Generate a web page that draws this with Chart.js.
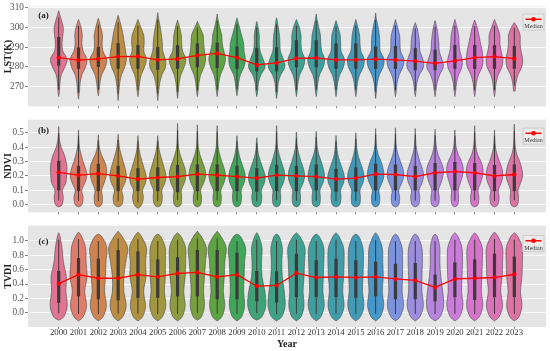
<!DOCTYPE html>
<html>
<head>
<meta charset="utf-8">
<title>LST / NDVI / TVDI violins</title>
<script src="https://cdn.jsdelivr.net/npm/chart.js@4.4.1/dist/chart.umd.min.js"></script>
<style>
    html, body { margin: 0; padding: 0; background: #fff; }
    #wrap { position: relative; width: 550px; height: 351px; }
    .panel { position: absolute; left: 0; width: 550px; }
</style>
</head>
<body>
<div id="wrap">
    <div class="panel" style="top:0;height:113px"><canvas id="chartA" width="550" height="113"></canvas></div>
    <div class="panel" style="top:113px;height:106px"><canvas id="chartB" width="550" height="106"></canvas></div>
    <div class="panel" style="top:219px;height:132px"><canvas id="chartC" width="550" height="132"></canvas></div>
</div>
<script>
"use strict";

// Categories
var years = [2000, 2001, 2002, 2003, 2004, 2005, 2006, 2007, 2008, 2009, 2010, 2011,
             2012, 2013, 2014, 2015, 2016, 2017, 2018, 2019, 2020, 2021, 2022, 2023];

var violinColors = ['#e07492', '#e07c6c', '#cf8450', '#bd8c45', '#ae923f', '#a09740',
                    '#8f9b41', '#7a9f40', '#5fa443', '#42a65a', '#3ea478', '#3ea386',
                    '#3ea192', '#3f9f9e', '#409daa', '#439ab7', '#4797cb', '#7e93dd',
                    '#9d8ddd', '#b584db', '#cb7bd9', '#d773cb', '#db73b7', '#dd74a3'];

// (a) LST
var lstMedian = [284.7, 283.4, 284.0, 285.2, 285.3, 283.5, 284.0, 285.8, 286.8, 284.7, 281.0, 282.0,
                 284.3, 284.5, 283.5, 283.5, 283.9, 283.5, 282.9, 281.8, 283.0, 284.7, 285.2, 284.2];
var lstQ1 = [280.6, 279, 280, 279, 279, 278.5, 279, 279.8, 279.4, 279, 277.7, 277.7,
             279.8, 279.8, 279, 279, 279, 279, 278.3, 278.3, 279, 279, 279, 279];
var lstQ3 = [295.1, 289.8, 290, 292, 291, 290, 291, 291.9, 292.2, 290.3, 289.5, 289.8,
             293.5, 293.5, 291.9, 291.9, 290.3, 290.6, 289.5, 288.7, 291.1, 291.1, 291, 290.6];
var lstMin = [265, 263.7, 265.4, 263, 265, 263, 264, 265, 265, 265.4, 265, 264,
              265, 265, 265, 265, 264, 265, 265, 265, 265, 265, 265, 267.8];
var lstMax = [308.4, 304, 304.5, 306, 304, 307.5, 303.7, 303, 306.7, 304.8, 303, 304.8,
              304, 306.7, 303.4, 304, 307.2, 304, 302.4, 303.4, 304, 303.7, 304, 302.4];
var lstLevels = [268, 272, 276, 280, 284, 288, 292, 296, 300, 304];
var lstWidths = [
    [0.1, 0.15, 0.3, 0.75, 1.0, 0.5, 0.4, 0.5, 0.55, 0.3],
    [0.12, 0.2, 0.4, 0.85, 1.0, 0.55, 0.4, 0.45, 0.3, 0.05],
    [0.1, 0.2, 0.4, 0.85, 1.0, 0.55, 0.45, 0.5, 0.3, 0.05],
    [0.1, 0.2, 0.4, 0.8, 1.0, 0.9, 0.75, 0.6, 0.4, 0.15],
    [0.1, 0.2, 0.4, 0.8, 1.0, 0.7, 0.75, 0.7, 0.35, 0.05],
    [0.12, 0.25, 0.5, 0.95, 0.9, 0.6, 0.55, 0.45, 0.3, 0.12],
    [0.1, 0.2, 0.4, 0.8, 1.0, 0.6, 0.5, 0.45, 0.25, 0.02],
    [0.1, 0.2, 0.4, 0.8, 1.0, 0.85, 0.75, 0.7, 0.3, 0.04],
    [0.1, 0.2, 0.4, 0.8, 1.0, 0.8, 0.6, 0.55, 0.3, 0.1],
    [0.1, 0.2, 0.4, 0.85, 1.0, 0.85, 0.8, 0.55, 0.3, 0.05],
    [0.12, 0.2, 0.5, 1.0, 0.75, 0.4, 0.3, 0.3, 0.15, 0.02],
    [0.12, 0.2, 0.5, 1.0, 0.8, 0.45, 0.4, 0.35, 0.2, 0.05],
    [0.1, 0.2, 0.4, 0.85, 1.0, 0.65, 0.55, 0.55, 0.35, 0.05],
    [0.1, 0.2, 0.4, 0.85, 1.0, 0.65, 0.55, 0.5, 0.3, 0.1],
    [0.1, 0.2, 0.45, 0.9, 1.0, 0.6, 0.55, 0.5, 0.25, 0.02],
    [0.1, 0.2, 0.45, 0.9, 1.0, 0.6, 0.5, 0.45, 0.25, 0.04],
    [0.1, 0.2, 0.45, 0.9, 1.0, 0.55, 0.5, 0.45, 0.3, 0.1],
    [0.1, 0.2, 0.45, 0.9, 1.0, 0.6, 0.55, 0.5, 0.25, 0.04],
    [0.1, 0.2, 0.5, 1.0, 0.9, 0.55, 0.5, 0.4, 0.2, 0.01],
    [0.1, 0.25, 0.55, 1.0, 0.8, 0.5, 0.45, 0.35, 0.2, 0.02],
    [0.1, 0.2, 0.45, 0.85, 0.85, 0.6, 0.5, 0.45, 0.25, 0.04],
    [0.1, 0.2, 0.45, 0.9, 1.0, 0.9, 0.7, 0.5, 0.3, 0.03],
    [0.1, 0.2, 0.45, 0.9, 1.0, 0.8, 0.65, 0.65, 0.35, 0.04],
    [0.1, 0.2, 0.45, 0.9, 1.0, 0.8, 0.7, 0.7, 0.35, 0.01]
];
var lstTicks = [270, 280, 290, 300, 310];

// (b) NDVI
var ndviMedian = [0.225, 0.206, 0.216, 0.2, 0.178, 0.189, 0.195, 0.212, 0.206, 0.195, 0.185, 0.206,
                  0.2, 0.195, 0.178, 0.185, 0.212, 0.21, 0.195, 0.222, 0.23, 0.222, 0.2, 0.21];
var ndviQ1 = [0.1, 0.094, 0.094, 0.094, 0.094, 0.094, 0.087, 0.094, 0.094, 0.094, 0.09, 0.094,
              0.094, 0.1, 0.09, 0.09, 0.1, 0.1, 0.1, 0.1, 0.1, 0.1, 0.094, 0.094];
var ndviQ3 = [0.305, 0.27, 0.284, 0.27, 0.254, 0.26, 0.277, 0.28, 0.28, 0.27, 0.254, 0.277,
              0.27, 0.28, 0.25, 0.26, 0.285, 0.28, 0.27, 0.29, 0.297, 0.29, 0.277, 0.28];
var ndviMin = [-0.016, -0.016, -0.016, -0.016, -0.026, -0.016, -0.016, -0.016, -0.016, -0.016, -0.016, -0.016,
               -0.016, -0.016, -0.016, -0.016, -0.016, -0.016, -0.016, -0.016, -0.016, -0.016, -0.016, -0.016];
var ndviMax = [0.543, 0.52, 0.486, 0.49, 0.48, 0.48, 0.565, 0.555, 0.55, 0.48, 0.466, 0.55,
               0.503, 0.51, 0.48, 0.5, 0.53, 0.535, 0.53, 0.525, 0.52, 0.55, 0.52, 0.56];
var ndviLevels = [0.0, 0.05, 0.1, 0.15, 0.2, 0.25, 0.3, 0.35, 0.4, 0.45, 0.5];
var ndviWidths = [
    [0.4, 0.55, 0.45, 0.85, 0.95, 1.0, 0.9, 0.65, 0.3, 0.1, 0.03],
    [0.4, 0.55, 0.4, 0.75, 1.0, 0.85, 0.55, 0.3, 0.12, 0.05, 0.02],
    [0.4, 0.5, 0.4, 0.7, 0.95, 1.0, 0.75, 0.35, 0.12, 0.04, 0.01],
    [0.45, 0.6, 0.45, 0.8, 1.0, 0.85, 0.6, 0.35, 0.15, 0.05, 0.01],
    [0.45, 0.65, 0.55, 0.9, 1.0, 0.75, 0.5, 0.25, 0.1, 0.04, 0.01],
    [0.4, 0.55, 0.5, 0.85, 1.0, 0.8, 0.55, 0.3, 0.12, 0.04, 0.01],
    [0.4, 0.5, 0.45, 0.8, 1.0, 0.9, 0.6, 0.3, 0.12, 0.06, 0.03],
    [0.4, 0.5, 0.4, 0.75, 1.0, 0.9, 0.6, 0.3, 0.12, 0.06, 0.03],
    [0.4, 0.5, 0.45, 0.8, 1.0, 0.85, 0.55, 0.3, 0.12, 0.06, 0.03],
    [0.4, 0.55, 0.5, 0.85, 1.0, 0.8, 0.5, 0.25, 0.1, 0.03, 0.01],
    [0.45, 0.6, 0.55, 0.9, 1.0, 0.75, 0.45, 0.2, 0.08, 0.03, 0.0],
    [0.4, 0.5, 0.45, 0.8, 1.0, 0.85, 0.55, 0.3, 0.12, 0.06, 0.03],
    [0.4, 0.5, 0.45, 0.8, 1.0, 0.85, 0.55, 0.3, 0.12, 0.05, 0.02],
    [0.4, 0.5, 0.45, 0.8, 1.0, 0.85, 0.6, 0.3, 0.12, 0.05, 0.02],
    [0.45, 0.6, 0.55, 0.9, 1.0, 0.75, 0.45, 0.2, 0.1, 0.03, 0.01],
    [0.45, 0.55, 0.5, 0.85, 1.0, 0.8, 0.5, 0.25, 0.1, 0.04, 0.01],
    [0.4, 0.5, 0.4, 0.75, 1.0, 0.9, 0.65, 0.3, 0.12, 0.05, 0.02],
    [0.4, 0.5, 0.4, 0.75, 1.0, 0.9, 0.6, 0.3, 0.12, 0.05, 0.02],
    [0.4, 0.55, 0.45, 0.8, 1.0, 0.85, 0.55, 0.3, 0.12, 0.05, 0.02],
    [0.4, 0.5, 0.4, 0.7, 0.95, 1.0, 0.7, 0.35, 0.15, 0.06, 0.02],
    [0.35, 0.45, 0.4, 0.65, 0.9, 1.0, 0.8, 0.4, 0.15, 0.06, 0.02],
    [0.4, 0.5, 0.4, 0.7, 0.95, 1.0, 0.75, 0.35, 0.15, 0.06, 0.03],
    [0.4, 0.55, 0.45, 0.8, 1.0, 0.9, 0.6, 0.3, 0.12, 0.05, 0.02],
    [0.4, 0.5, 0.45, 0.75, 1.0, 0.9, 0.65, 0.3, 0.12, 0.06, 0.03]
];
var ndviTicks = [0.0, 0.1, 0.2, 0.3, 0.4, 0.5];

// (c) TVDI
var tvdiMedian = [0.405, 0.53, 0.48, 0.48, 0.53, 0.5, 0.546, 0.56, 0.5, 0.53, 0.37, 0.38,
                  0.55, 0.49, 0.5, 0.49, 0.5, 0.47, 0.45, 0.355, 0.47, 0.48, 0.49, 0.535];
var tvdiQ1 = [0.14, 0.23, 0.19, 0.176, 0.21, 0.21, 0.23, 0.23, 0.19, 0.19, 0.16, 0.146,
              0.22, 0.22, 0.22, 0.21, 0.23, 0.19, 0.19, 0.16, 0.22, 0.18, 0.22, 0.22];
var tvdiQ3 = [0.58, 0.758, 0.75, 0.868, 0.85, 0.74, 0.77, 0.87, 0.87, 0.83, 0.58, 0.575,
              0.82, 0.73, 0.75, 0.73, 0.71, 0.68, 0.69, 0.53, 0.7, 0.74, 0.82, 0.78];
var tvdiMin = [-0.1, -0.11, -0.11, -0.11, -0.11, -0.11, -0.11, -0.1, -0.11, -0.11, -0.1, -0.11,
               -0.11, -0.11, -0.11, -0.11, -0.11, -0.11, -0.11, -0.11, -0.11, -0.11, -0.11, -0.11];
var tvdiMax = [1.11, 1.12, 1.09, 1.13, 1.12, 1.09, 1.11, 1.13, 1.13, 1.09, 1.11, 1.09,
               1.11, 1.09, 1.11, 1.09, 1.11, 1.09, 1.09, 1.09, 1.11, 1.11, 1.12, 1.11];
var tvdiLevels = [-0.05, 0.1, 0.3, 0.5, 0.7, 0.9, 1.05];
var tvdiWidths = [
    [0.55, 0.9, 0.75, 0.8, 0.5, 0.35, 0.15],
    [0.5, 0.85, 0.65, 0.9, 0.8, 0.75, 0.35],
    [0.5, 0.85, 0.65, 0.75, 0.8, 0.9, 0.4],
    [0.5, 0.85, 0.6, 0.6, 0.8, 1.0, 0.45],
    [0.5, 0.8, 0.6, 0.85, 0.8, 0.9, 0.4],
    [0.5, 0.85, 0.7, 0.8, 0.8, 0.8, 0.35],
    [0.5, 0.8, 0.65, 0.8, 0.85, 0.85, 0.4],
    [0.45, 0.75, 0.65, 0.75, 0.85, 0.95, 0.45],
    [0.5, 0.8, 0.65, 0.75, 0.8, 0.95, 0.45],
    [0.5, 0.8, 0.7, 0.75, 0.8, 0.9, 0.4],
    [0.55, 0.95, 0.85, 0.55, 0.5, 0.55, 0.25],
    [0.55, 0.9, 0.8, 0.6, 0.55, 0.6, 0.3],
    [0.5, 0.8, 0.7, 0.8, 0.85, 0.9, 0.4],
    [0.5, 0.85, 0.7, 0.75, 0.8, 0.8, 0.35],
    [0.5, 0.85, 0.7, 0.8, 0.85, 0.8, 0.35],
    [0.5, 0.85, 0.7, 0.75, 0.8, 0.75, 0.35],
    [0.5, 0.85, 0.7, 0.8, 0.75, 0.7, 0.3],
    [0.5, 0.85, 0.7, 0.75, 0.75, 0.7, 0.3],
    [0.5, 0.85, 0.7, 0.7, 0.75, 0.7, 0.3],
    [0.55, 0.9, 0.8, 0.6, 0.5, 0.5, 0.25],
    [0.5, 0.85, 0.7, 0.75, 0.8, 0.75, 0.35],
    [0.5, 0.85, 0.7, 0.75, 0.8, 0.8, 0.35],
    [0.5, 0.85, 0.65, 0.8, 0.85, 0.85, 0.4],
    [0.5, 0.8, 0.65, 0.8, 0.85, 0.85, 0.4]
];
var tvdiTicks = [0.0, 0.2, 0.4, 0.6, 0.8, 1.0];

var SERIF = '"Liberation Serif", "Times New Roman", serif';

// catmull-rom through points, keeps the curve on one side of cx
function splineTo(ctx, P, cx, side) {
    var clampX = function (x) { return side > 0 ? Math.max(x, cx) : Math.min(x, cx); };
    for (var i = 0; i < P.length - 1; i++) {
        var p0 = P[i - 1] || P[i], p1 = P[i], p2 = P[i + 1], p3 = P[i + 2] || P[i + 1];
        ctx.bezierCurveTo(
            clampX(p1[0] + (p2[0] - p0[0]) / 6), p1[1] + (p2[1] - p0[1]) / 6,
            clampX(p2[0] - (p3[0] - p1[0]) / 6), p2[1] - (p3[1] - p1[1]) / 6,
            p2[0], p2[1]);
    }
}

// Violin plugin - draws shapes + inner box before the median line
var violinPlugin = {
    id: 'violins',
    beforeDatasetsDraw: function (chart) {
        var v = chart.options.plugins.violins;
        var ctx = chart.ctx, xs = chart.scales.x, ys = chart.scales.y;
        var slot = xs.getPixelForValue(1) - xs.getPixelForValue(0);
        var maxHalf = slot * v.spread;
        ctx.save();
        for (var i = 0; i < years.length; i++) {
            var cx = xs.getPixelForValue(i);
            var pts = [[cx, ys.getPixelForValue(v.min[i])]];
            for (var k = 0; k < v.levels.length; k++) {
                var lv = v.levels[k];
                if (lv <= v.min[i] || lv >= v.max[i]) continue;
                pts.push([cx + v.widths[i][k] * maxHalf, ys.getPixelForValue(lv)]);
            }
            pts.push([cx, ys.getPixelForValue(v.max[i])]);
            var leftPts = pts.slice().reverse().map(function (p) { return [2 * cx - p[0], p[1]]; });

            ctx.beginPath();
            ctx.moveTo(pts[0][0], pts[0][1]);
            splineTo(ctx, pts, cx, 1);
            splineTo(ctx, leftPts, cx, -1);
            ctx.closePath();
            ctx.fillStyle = violinColors[i];
            ctx.fill();
            ctx.lineWidth = 0.6;
            ctx.strokeStyle = '#4a4a4a';
            ctx.stroke();

            // whisker + box
            var iqr = v.q3[i] - v.q1[i];
            var span = v.max[i] - v.min[i];
            var lo = Math.max(v.q1[i] - 1.5 * iqr, v.min[i] + 0.08 * span);
            var hi = Math.min(v.q3[i] + 1.5 * iqr, v.max[i] - 0.08 * span);
            ctx.strokeStyle = '#3a3a3a';
            ctx.lineWidth = 1;
            ctx.beginPath();
            ctx.moveTo(cx, ys.getPixelForValue(lo));
            ctx.lineTo(cx, ys.getPixelForValue(hi));
            ctx.stroke();
            var yTop = ys.getPixelForValue(v.q3[i]), yBot = ys.getPixelForValue(v.q1[i]);
            ctx.fillStyle = '#3a3a3a';
            ctx.fillRect(cx - 1.6, yTop, 3.2, yBot - yTop);
        }
        ctx.restore();
    }
};

// Gray panel background
var panelBg = {
    id: 'panelBg',
    beforeDraw: function (chart) {
        var a = chart.chartArea, ctx = chart.ctx;
        ctx.save();
        ctx.fillStyle = '#e5e5e5';
        ctx.fillRect(a.left, a.top, a.right - a.left, a.bottom - a.top);
        ctx.restore();
    }
};

// Panel tag + little "Median" legend box
var panelDecor = {
    id: 'panelDecor',
    afterDraw: function (chart) {
        var o = chart.options.plugins.panelDecor;
        var a = chart.chartArea, ctx = chart.ctx;
        ctx.save();
        ctx.font = 'bold 9px ' + SERIF;
        ctx.fillStyle = '#222';
        ctx.textAlign = 'center';
        ctx.textBaseline = 'middle';
        ctx.fillText(o.tag, a.left + 15.5, a.top + o.tagY);

        var bw = 22, bh = 17;
        var bx = a.right - bw - 1.5, by = a.top + o.boxY;
        ctx.fillStyle = '#ebebeb';
        ctx.fillRect(bx, by, bw, bh);
        ctx.strokeStyle = '#c4c4c4';
        ctx.lineWidth = 0.8;
        ctx.strokeRect(bx + 0.5, by + 0.5, bw - 1, bh - 1);
        ctx.strokeStyle = '#ff0000';
        ctx.lineWidth = 1.5;
        ctx.beginPath();
        ctx.moveTo(bx + 3, by + 5.7);
        ctx.lineTo(bx + bw - 3, by + 5.7);
        ctx.stroke();
        ctx.fillStyle = '#ff0000';
        ctx.beginPath();
        ctx.arc(bx + bw / 2, by + 5.7, 2.3, 0, Math.PI * 2);
        ctx.fill();
        ctx.font = '6px ' + SERIF;
        ctx.fillStyle = '#333';
        ctx.fillText('Median', bx + bw / 2, by + 13);
        ctx.restore();
    }
};

function makePanel(id, p) {
    var ctx = document.getElementById(id).getContext('2d');
    return new Chart(ctx, {
        type: 'line',
        data: {
            datasets: [{
                label: 'Median',
                data: p.median.map(function (m, i) { return { x: i, y: m }; }),
                borderColor: '#ff0000',
                backgroundColor: '#ff0000',
                borderWidth: 1.3,
                pointRadius: 2.1,
                pointBorderWidth: 0,
                tension: 0
            }]
        },
        options: {
            responsive: false,
            animation: false,
            layout: { padding: { top: p.padTop, right: 3, left: 0, bottom: 0 } },
            plugins: {
                legend: { display: false },
                tooltip: { enabled: false },
                violins: p,
                panelDecor: { tag: p.tag, tagY: p.tagY, boxY: p.boxY }
            },
            scales: {
                x: {
                    type: 'linear',
                    min: -1.55,
                    max: 24.6,
                    afterBuildTicks: function (s) {
                        s.ticks = years.map(function (y, i) { return { value: i }; });
                    },
                    afterFit: function (s) { s.height = p.xHeight; },
                    ticks: {
                        display: p.showYears,
                        autoSkip: false,
                        maxRotation: 0,
                        padding: -2,
                        color: '#333',
                        font: { family: SERIF, size: 8.7 },
                        callback: function (v) { return years[v]; }
                    },
                    grid: { drawOnChartArea: false, tickLength: 2, tickColor: '#777', lineWidth: 0.8 },
                    border: { display: false },
                    title: {
                        display: p.showYears,
                        text: 'Year',
                        color: '#222',
                        font: { family: SERIF, size: 10, weight: 'bold' },
                        padding: { top: 0, bottom: 1 }
                    }
                },
                y: {
                    min: p.yMin,
                    max: p.yMax,
                    afterBuildTicks: function (s) {
                        s.ticks = p.ticks.map(function (t) { return { value: t }; });
                    },
                    afterFit: function (s) { s.width = 28; },
                    ticks: {
                        padding: 1,
                        color: '#555',
                        font: { family: SERIF, size: 9.3 },
                        callback: function (v) { return p.decimals ? v.toFixed(1) : String(v); }
                    },
                    grid: { color: '#ffffff', lineWidth: 0.8, tickColor: '#666', tickLength: 3 },
                    border: { display: false },
                    title: {
                        display: true,
                        text: p.title,
                        color: '#222',
                        font: { family: SERIF, size: 10, weight: 'bold' },
                        padding: { top: 2, bottom: 0 }
                    }
                }
            }
        },
        plugins: [panelBg, violinPlugin, panelDecor]
    });
}

makePanel('chartA', {
    tag: '(a)', tagY: 9, boxY: 7, title: 'LST(K)', spread: 0.42,
    median: lstMedian, q1: lstQ1, q3: lstQ3, min: lstMin, max: lstMax,
    levels: lstLevels, widths: lstWidths, ticks: lstTicks, decimals: false,
    yMin: 260, yMax: 310.5, padTop: 5, xHeight: 3, showYears: false
});

makePanel('chartB', {
    tag: '(b)', tagY: 11, boxY: 8, title: 'NDVI', spread: 0.42,
    median: ndviMedian, q1: ndviQ1, q3: ndviQ3, min: ndviMin, max: ndviMax,
    levels: ndviLevels, widths: ndviWidths, ticks: ndviTicks, decimals: true,
    yMin: -0.054, yMax: 0.592, padTop: 1, xHeight: 3, showYears: false
});

makePanel('chartC', {
    tag: '(c)', tagY: 15.7, boxY: 9.5, title: 'TVDI', spread: 0.48,
    median: tvdiMedian, q1: tvdiQ1, q3: tvdiQ3, min: tvdiMin, max: tvdiMax,
    levels: tvdiLevels, widths: tvdiWidths, ticks: tvdiTicks, decimals: true,
    yMin: -0.194, yMax: 1.208, padTop: 2, xHeight: 24, showYears: true
});
</script>
</body>
</html>
